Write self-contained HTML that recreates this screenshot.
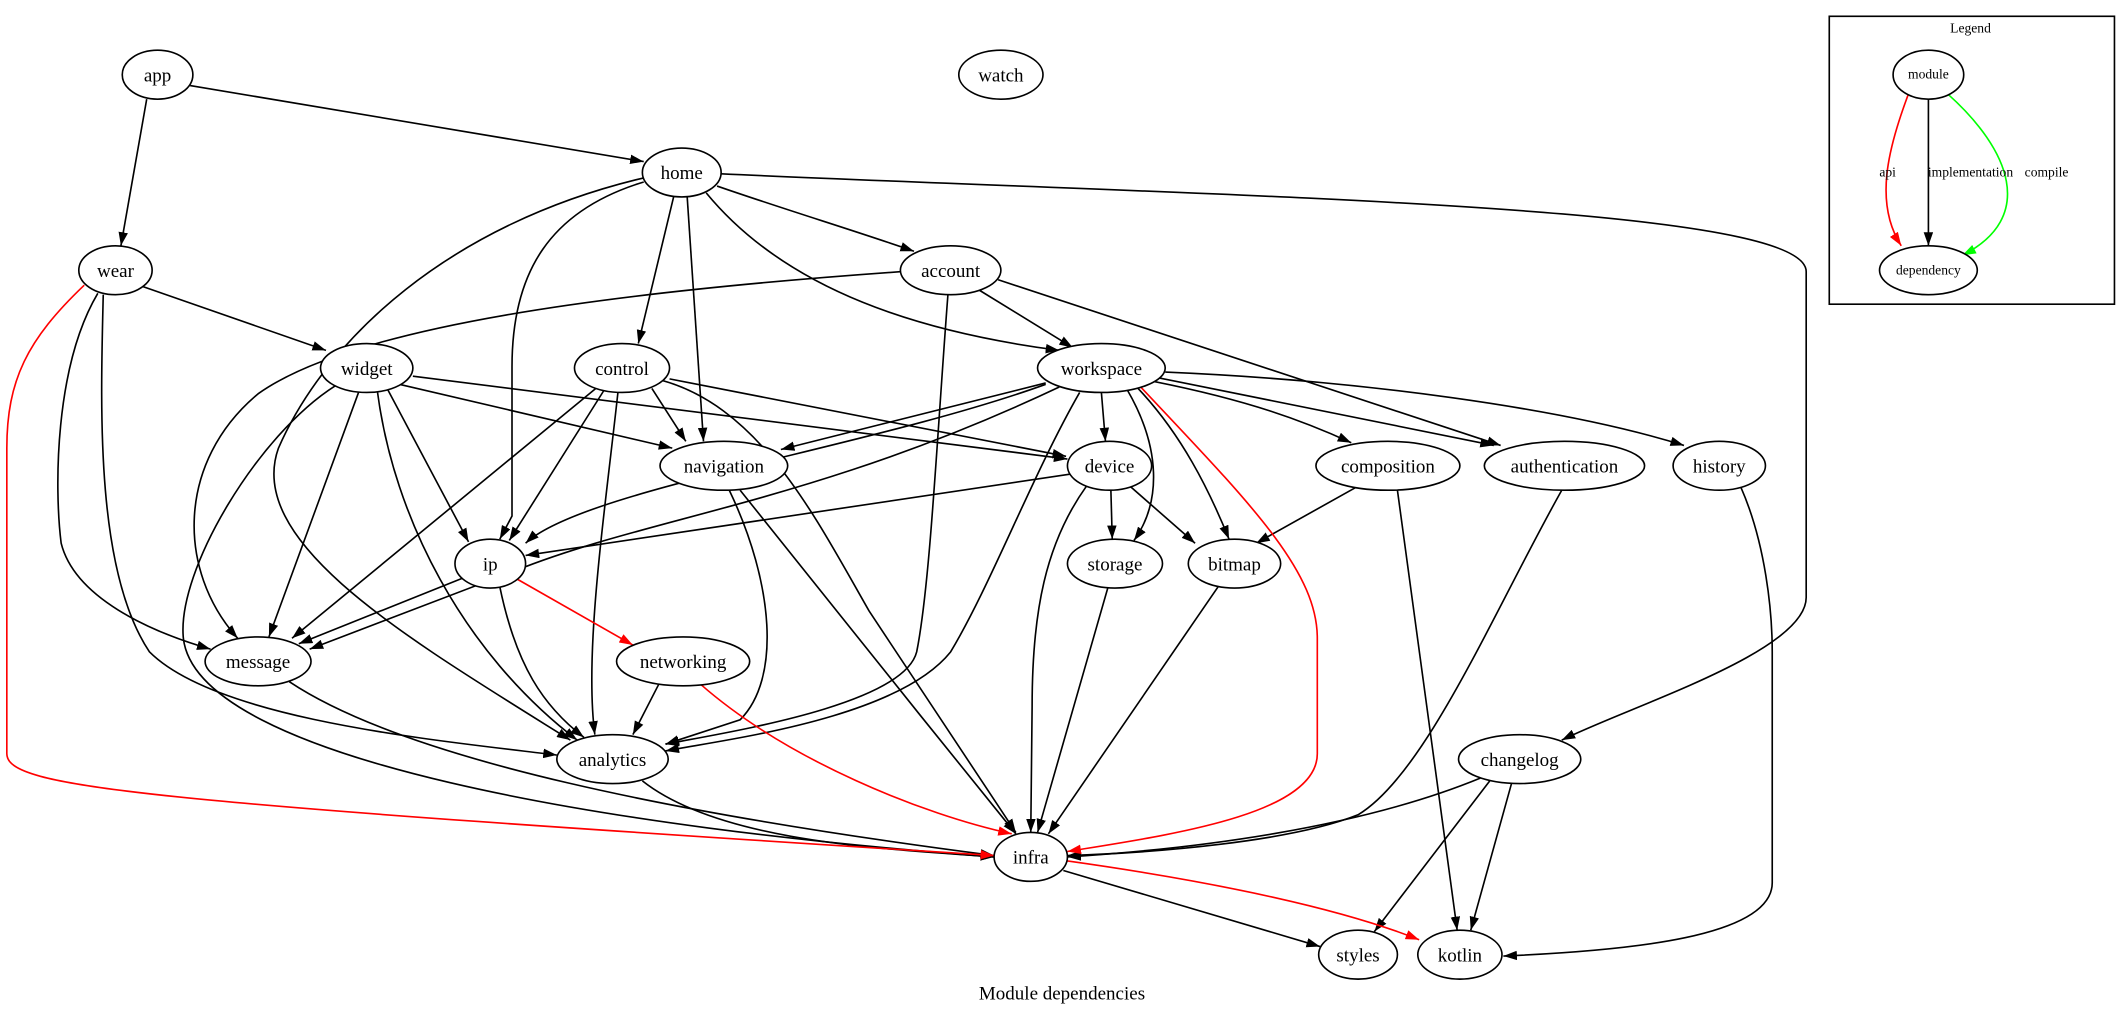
<!DOCTYPE html>
<html><head><meta charset="utf-8"><style>
html,body{margin:0;padding:0;background:#fff;}
svg{display:block;}
text{font-family:"Liberation Serif",serif;}
</style></head><body>
<svg width="2124" height="1009" viewBox="0 0 1564 743" xmlns="http://www.w3.org/2000/svg">
<defs>
<marker id="ab" markerUnits="userSpaceOnUse" markerWidth="10" markerHeight="7" refX="10" refY="3.5" orient="auto" viewBox="0 0 10 7"><path d="M0,0 L10,3.5 L0,7 z" fill="#000"/></marker>
<marker id="ar" markerUnits="userSpaceOnUse" markerWidth="10" markerHeight="7" refX="10" refY="3.5" orient="auto" viewBox="0 0 10 7"><path d="M0,0 L10,3.5 L0,7 z" fill="#f00"/></marker>
<marker id="ag" markerUnits="userSpaceOnUse" markerWidth="10" markerHeight="7" refX="10" refY="3.5" orient="auto" viewBox="0 0 10 7"><path d="M0,0 L10,3.5 L0,7 z" fill="#0f0"/></marker>
</defs>
<g fill="none" stroke="#000" stroke-width="1.2" marker-end="url(#ab)">
<path d="M140,63 L474,119"/>
<path d="M108,73 L89,181"/>
<path d="M528,137 C580,155 630,170 673,185"/>
<path d="M496,145 L470,253"/>
<path d="M506,145 L518,325"/>
<path d="M520,142 C580,215 680,245 780,258"/>
<path d="M474,134 C405,155 377,200 377,270 L377,380 L368,397"/>
<path d="M474,131 C330,165 240,250 205,330 C180,400 300,470 420,545"/>
<path d="M531,128 C900,145 1330,150 1330,200 L1330,440 C1330,480 1200,520 1150,545"/>
<path d="M720,213 L790,256"/>
<path d="M735,206 L1105,328"/>
<path d="M664,200 C450,215 260,240 190,290 C130,340 130,420 175,470"/>
<path d="M698,217 C690,320 685,430 675,480 C665,520 530,540 490,548"/>
<path d="M105,211 L240,258"/>
<path d="M72,216 C40,270 40,360 45,400 C55,440 110,465 155,478"/>
<path d="M76,217 C74,300 70,420 110,480 C160,530 320,545 410,556"/>
<path d="M294,283 L495,330"/>
<path d="M304,277 L786,338"/>
<path d="M285,286 L345,399"/>
<path d="M264,289 L198,469"/>
<path d="M278,289 C290,380 340,480 425,545"/>
<path d="M247,284 C190,320 130,420 135,470 C145,560 450,610 732,631"/>
<path d="M480,286 L505,325"/>
<path d="M445,287 L375,398"/>
<path d="M440,285 L215,470"/>
<path d="M455,289 C445,380 430,480 438,541"/>
<path d="M493,279 L785,336"/>
<path d="M487,280 C560,300 600,380 640,450 L748,613"/>
<path d="M770,282 L575,331"/>
<path d="M770,283 C640,330 430,360 387,400"/>
<path d="M780,285 C600,370 480,380 380,420 L228,478"/>
<path d="M795,289 C760,350 730,430 700,480 C660,530 530,545 490,553"/>
<path d="M811,289 L814,325"/>
<path d="M830,287 C855,330 855,370 835,398"/>
<path d="M838,286 C870,320 890,360 905,397"/>
<path d="M850,281 C920,295 960,310 995,326"/>
<path d="M852,278 L1100,328"/>
<path d="M858,274 C1000,280 1150,300 1240,328"/>
<path d="M537,361 C570,430 575,500 545,530 L490,548"/>
<path d="M545,361 C600,430 680,530 748,614"/>
<path d="M789,349 L387,409"/>
<path d="M818,361 L819,397"/>
<path d="M832,358 L880,400"/>
<path d="M800,358 C770,400 760,450 760,520 L759,613"/>
<path d="M1000,358 L925,400"/>
<path d="M1029,361 L1073,685"/>
<path d="M1150,361 C1100,450 1050,570 1000,600 C950,620 850,628 786,630"/>
<path d="M1282,359 C1300,400 1305,450 1305,480 L1305,650 C1305,690 1200,700 1107,704"/>
<path d="M340,426 L220,474"/>
<path d="M368,432 C380,490 400,520 430,543"/>
<path d="M816,432 L764,613"/>
<path d="M897,432 L772,614"/>
<path d="M213,502 C300,560 500,600 732,630"/>
<path d="M485,504 L466,541"/>
<path d="M473,575 C530,620 650,625 732,631"/>
<path d="M1090,573 C1000,610 880,625 786,631"/>
<path d="M1097,575 L1012,686"/>
<path d="M1113,577 L1083,685"/>
<path d="M783,641 L972,697"/>
<path d="M1420,73 L1420,181"/>
</g>
<g fill="none" stroke="#f00" stroke-width="1.2" marker-end="url(#ar)">
<path d="M62,210 C20,250 5,280 5,330 L5,555 C5,580 100,590 732,630"/>
<path d="M840,285 C920,370 970,420 970,470 L970,555 C970,600 860,615 786,627"/>
<path d="M380,426 L466,475"/>
<path d="M516,504 C580,560 680,600 745,614"/>
<path d="M786,634 C900,650 990,670 1045,692"/>
<path d="M1405,70 C1390,110 1380,150 1400,181"/>
</g>
<path d="M1434,69 C1480,110 1500,160 1445,188" fill="none" stroke="#0f0" stroke-width="1.2" marker-end="url(#ag)"/>
<g fill="#fff" stroke="#000" stroke-width="1.2">
<ellipse cx="116" cy="55" rx="26" ry="18"/>
<ellipse cx="737" cy="55" rx="31" ry="18"/>
<ellipse cx="502" cy="127" rx="29" ry="18"/>
<ellipse cx="85" cy="199" rx="27" ry="18"/>
<ellipse cx="700" cy="199" rx="37" ry="18"/>
<ellipse cx="270" cy="271" rx="34" ry="18"/>
<ellipse cx="458" cy="271" rx="35" ry="18"/>
<ellipse cx="811" cy="271" rx="47" ry="18"/>
<ellipse cx="533" cy="343" rx="47" ry="18"/>
<ellipse cx="817" cy="343" rx="31" ry="18"/>
<ellipse cx="1022" cy="343" rx="53" ry="18"/>
<ellipse cx="1152" cy="343" rx="59" ry="18"/>
<ellipse cx="1266" cy="343" rx="34" ry="18"/>
<ellipse cx="361" cy="415" rx="26" ry="18"/>
<ellipse cx="821" cy="415" rx="35" ry="18"/>
<ellipse cx="909" cy="415" rx="34" ry="18"/>
<ellipse cx="190" cy="487" rx="39" ry="18"/>
<ellipse cx="503" cy="487" rx="49" ry="18"/>
<ellipse cx="451" cy="559" rx="41" ry="18"/>
<ellipse cx="1119" cy="559" rx="45" ry="18"/>
<ellipse cx="759" cy="631" rx="27" ry="18"/>
<ellipse cx="1000" cy="703" rx="29" ry="18"/>
<ellipse cx="1075" cy="703" rx="31" ry="18"/>
<ellipse cx="1420" cy="55" rx="26" ry="18"/>
<ellipse cx="1420" cy="199" rx="36" ry="18"/>
</g>
<rect x="1347" y="12" width="210" height="212" fill="none" stroke="#000" stroke-width="1.2"/>
<g font-size="14" text-anchor="middle" fill="#000">
<text x="116" y="60">app</text>
<text x="737" y="60">watch</text>
<text x="502" y="132">home</text>
<text x="85" y="204">wear</text>
<text x="700" y="204">account</text>
<text x="270" y="276">widget</text>
<text x="458" y="276">control</text>
<text x="811" y="276">workspace</text>
<text x="533" y="348">navigation</text>
<text x="817" y="348">device</text>
<text x="1022" y="348">composition</text>
<text x="1152" y="348">authentication</text>
<text x="1266" y="348">history</text>
<text x="361" y="420">ip</text>
<text x="821" y="420">storage</text>
<text x="909" y="420">bitmap</text>
<text x="190" y="492">message</text>
<text x="503" y="492">networking</text>
<text x="451" y="564">analytics</text>
<text x="1119" y="564">changelog</text>
<text x="759" y="636">infra</text>
<text x="1000" y="708">styles</text>
<text x="1075" y="708">kotlin</text>
<text x="782" y="736">Module dependencies</text>
</g>
<g font-size="10" text-anchor="middle" fill="#000">
<text x="1451" y="24">Legend</text>
<text x="1420" y="58">module</text>
<text x="1420" y="202">dependency</text>
<text x="1390" y="130">api</text>
<text x="1451" y="130">implementation</text>
<text x="1507" y="130">compile</text>
</g>
</svg>
</body></html>
